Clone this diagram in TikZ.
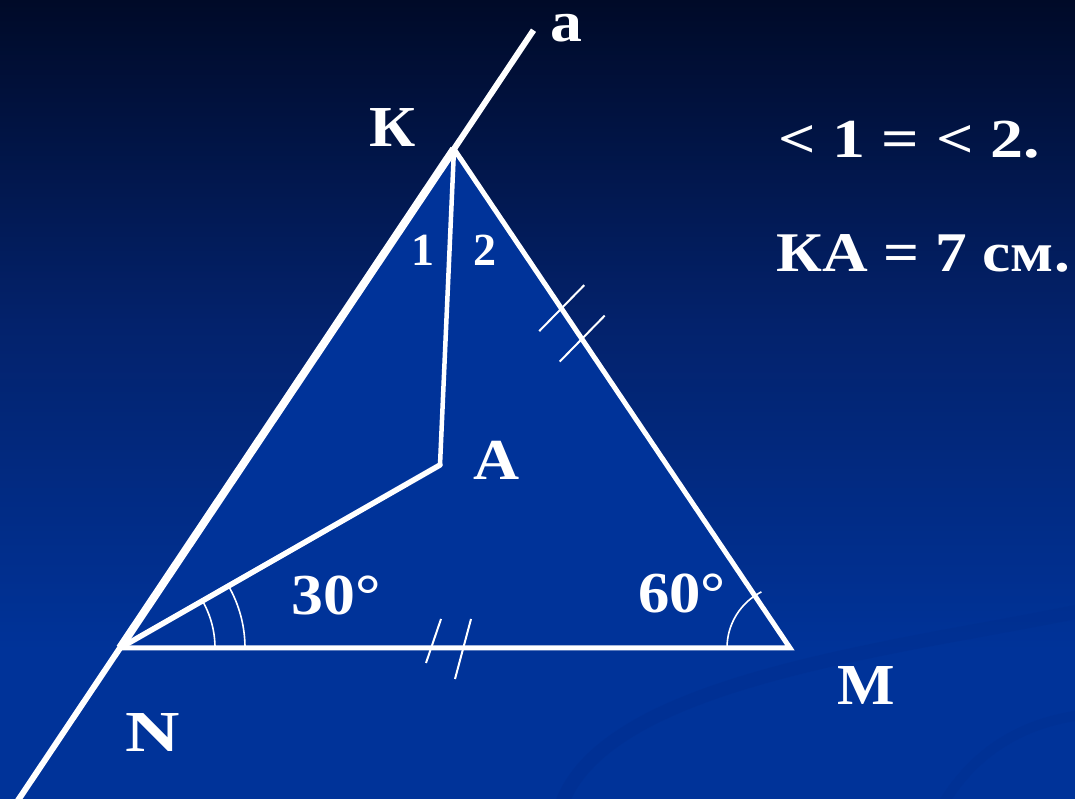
\documentclass[tikz,border=0pt]{standalone}
\usepackage{fontspec}
\setmainfont{Liberation Serif}
\usetikzlibrary{calc}
\definecolor{bgtop}{RGB}{0,10,40}
\definecolor{bgmid}{RGB}{3,34,108}
\definecolor{trifill}{RGB}{0,51,153}
\definecolor{swirl}{RGB}{0,45,140}
\newcommand{\hstretch}[2]{\scalebox{#1}[1]{#2}}
\tikzset{
  side/.style={draw=white,line width=5pt,line cap=round,line join=miter},
  thin mark/.style={draw=white,line width=1.6pt},
  lbl/.style={text=white,font=\bfseries\fontsize{58}{60}\selectfont,inner sep=0pt},
  small lbl/.style={text=white,font=\bfseries\fontsize{46}{48}\selectfont,inner sep=0pt},
}
\begin{document}
\begin{tikzpicture}[x=1pt,y=1pt]
\fill[trifill] (0,0) rectangle (1075,150);
\shade[top color=bgtop,bottom color=trifill,middle color=bgmid] (0,149) rectangle (1075,799);
\useasboundingbox (0,0) rectangle (1075,799);
% faint swirl
\begin{scope}
\clip (0,0) rectangle (1075,799);
\draw[swirl,line width=14pt,opacity=0.35] (560,-10) .. controls (600,120) and (900,150) .. (1090,190);
\draw[swirl,line width=10pt,opacity=0.3] (940,-10) .. controls (980,60) and (1040,80) .. (1090,85);
\end{scope}
% points
\coordinate (K) at (454,650);
\coordinate (N) at (120,151);
\coordinate (M) at (790,151);
\coordinate (A) at (440,334);
\coordinate (atop) at ($(N)!1.238!(K)$);
\coordinate (abot) at ($(N)!-0.31!(K)$);
% triangle fill
\fill[trifill] (K) -- (N) -- (M) -- cycle;
% line a
\draw[white,line width=6pt] (abot) -- (atop);
\draw[white,line width=8pt] (N) -- (K);
% sides
\draw[side] (K) -- (M) -- (N);
\draw[side,line width=4.5pt] (K) -- (A);
\draw[side,line width=5.5pt] (A) -- (N);
% angle arcs at N
\draw[thin mark] ($(N)+(95,0)$) arc[start angle=0,end angle=29.8,radius=95];
\draw[thin mark] ($(N)+(125,0)$) arc[start angle=0,end angle=29.8,radius=125];
% angle arc at M
\draw[thin mark] ($(M)+(-63,0)$) arc[start angle=180,end angle=117,radius=63];
% ticks on KM
\draw[thin mark,line width=2pt] ($(K)!0.319!(M)+(-22,-23)$) -- ++(45,46);
\draw[thin mark,line width=2pt] ($(K)!0.38!(M)+(-22,-23)$) -- ++(45,46);
% ticks on NM
\draw[thin mark,line width=2pt] (426,136) -- (441,180);
\draw[thin mark,line width=2pt] (455,120) -- (471,180);
% labels
\node[lbl] (lK) at (393,671) {\hstretch{1.1}{К}};
\node[lbl] (la) at (566,771) {\hstretch{1.1}{а}};
\node[lbl] (lA) at (497,339) {\hstretch{1.1}{A}};
\node[lbl] (lN) at (153,66) {\hstretch{1.3}{N}};
\node[lbl] (lM) at (866,113) {\hstretch{1.05}{M}};
\node[small lbl] (l1) at (423,549) {1};
\node[small lbl] (l2) at (485,549) {2};
\node[lbl] (l30) at (336,203) {\hstretch{1.1}{30°}};
\node[lbl] (l60) at (682,205) {\hstretch{1.08}{60°}};
\node[lbl,font=\bfseries\fontsize{55}{58}\selectfont] (t1) at (909,659) {\hstretch{1.2}{< 1 = < 2.}};
\node[lbl,font=\bfseries\fontsize{56}{58}\selectfont] (t2) at (923,546) {\hstretch{1.13}{КА = 7 см.}};
\end{tikzpicture}
\end{document}
